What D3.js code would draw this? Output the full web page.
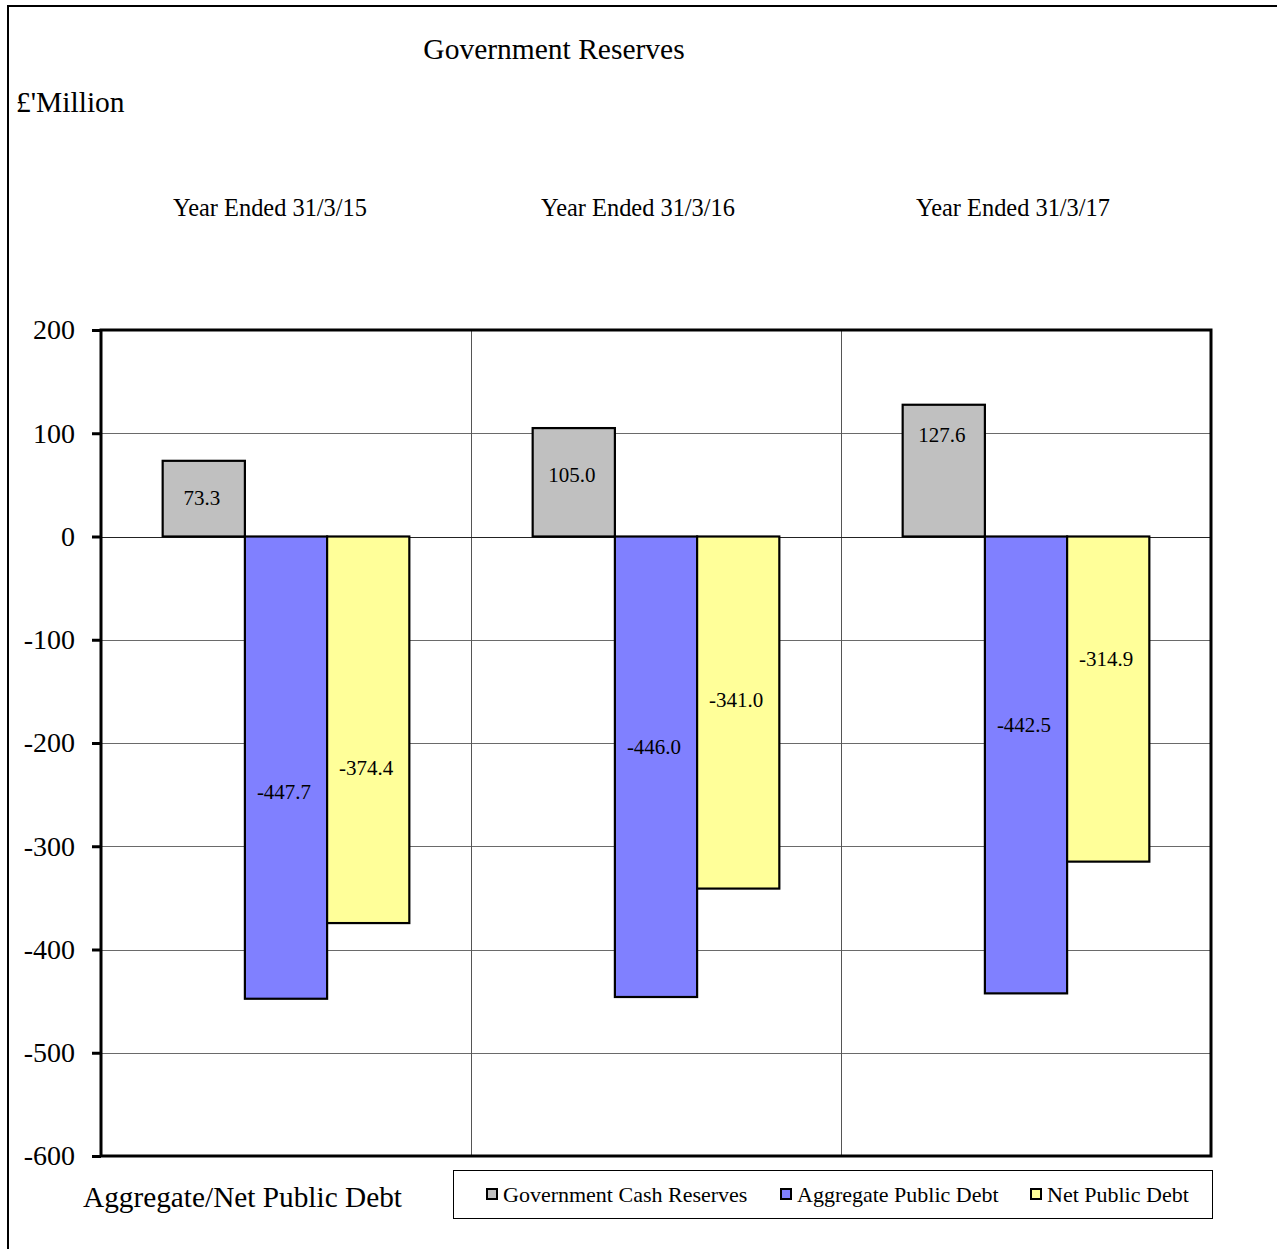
<!DOCTYPE html>
<html>
<head>
<meta charset="utf-8">
<script src="https://cdn.jsdelivr.net/npm/d3@7"></script>
<style>
  html, body { margin: 0; padding: 0; background: #fff; }
  svg { display: block; }
  text { font-family: "Liberation Serif", "Times New Roman", serif; fill: #000; }
</style>
</head>
<body>
<svg id="chart" width="1277" height="1249"></svg>
<script>
// Data
const categories = ["Year Ended 31/3/15", "Year Ended 31/3/16", "Year Ended 31/3/17"];
const seriesNames = ["Government Cash Reserves", "Aggregate Public Debt", "Net Public Debt"];
const cashReserves = [73.3, 105.0, 127.6];
const aggregateDebt = [-447.7, -446.0, -442.5];
const netDebt = [-374.4, -341.0, -314.9];
const yTicks = [200, 100, 0, -100, -200, -300, -400, -500, -600];

const seriesValues = [cashReserves, aggregateDebt, netDebt];
const seriesColors = ["#C0C0C0", "#8080FF", "#FFFF99"];

// Number formats with a plain hyphen for negatives
const locale = d3.formatLocale({ decimal: ".", thousands: ",", grouping: [3], currency: ["£", ""], minus: "-" });
const fmtValue = locale.format(".1f");
const fmtTick = locale.format("d");

// Layout
const svg = d3.select("#chart");
const plot = { left: 101, right: 1211, top: 330, bottom: 1156 };

const x = d3.scaleBand().domain(categories).range([plot.left, plot.right]).paddingInner(0).paddingOuter(0);
const y = d3.scaleLinear().domain([-600, 200]).range([plot.bottom, plot.top]);

// Bars take 3/(3+1.5) of each category band (gap width 150%)
const groupW = x.bandwidth() * 3 / 4.5;
const xs = d3.scaleBand().domain(d3.range(3)).range([0, groupW]);

// Outer frame (extends beyond the page on the right and bottom)
svg.append("rect")
  .attr("x", 8).attr("y", 6).attr("width", 1400).attr("height", 1400)
  .attr("fill", "none").attr("stroke", "#000").attr("stroke-width", 2);

// Horizontal gridlines
svg.append("g").selectAll("line").data(yTicks.filter(d => d !== 200 && d !== -600 && d !== 0)).join("line")
  .attr("x1", plot.left).attr("x2", plot.right)
  .attr("y1", d => Math.round(y(d)) + 0.5).attr("y2", d => Math.round(y(d)) + 0.5)
  .attr("stroke", "#6a6a6a").attr("stroke-width", 1);

// Category separators
svg.append("g").selectAll("line").data(categories.slice(1)).join("line")
  .attr("x1", d => Math.round(x(d)) + 0.5).attr("x2", d => Math.round(x(d)) + 0.5)
  .attr("y1", plot.top).attr("y2", plot.bottom)
  .attr("stroke", "#555").attr("stroke-width", 1);

// Zero line
svg.append("line")
  .attr("x1", plot.left).attr("x2", plot.right)
  .attr("y1", Math.round(y(0)) + 0.5).attr("y2", Math.round(y(0)) + 0.5)
  .attr("stroke", "#222").attr("stroke-width", 1);

// Bars
const bars = [];
categories.forEach((c, ci) => {
  seriesValues.forEach((vals, si) => {
    bars.push({ cat: c, ci, si, value: vals[ci] });
  });
});

const barX = d => x(d.cat) + (x.bandwidth() - groupW) / 2 + xs(d.si);

svg.append("g").selectAll("rect").data(bars).join("rect")
  .attr("x", barX)
  .attr("y", d => y(Math.max(0, d.value)))
  .attr("width", xs.bandwidth())
  .attr("height", d => Math.abs(y(d.value) - y(0)))
  .attr("fill", d => seriesColors[d.si])
  .attr("stroke", "#000").attr("stroke-width", 2.2);

// Data labels, nudged vertically from each bar's midpoint
const labelNudge = [
  [-1, 24, 38],
  [-8, -20, -13],
  [-36, -40, -40]
];
svg.append("g").selectAll("text").data(bars).join("text")
  .attr("x", d => barX(d) + xs.bandwidth() / 2 - 2)
  .attr("y", d => (y(d.value) + y(0)) / 2 + labelNudge[d.ci][d.si])
  .attr("dy", "0.35em")
  .attr("text-anchor", "middle")
  .attr("font-size", 21)
  .text(d => fmtValue(d.value));

// Plot border
svg.append("rect")
  .attr("x", plot.left).attr("y", plot.top)
  .attr("width", plot.right - plot.left).attr("height", plot.bottom - plot.top)
  .attr("fill", "none").attr("stroke", "#000").attr("stroke-width", 3);

// Y axis
const yAxis = svg.append("g")
  .attr("transform", `translate(${plot.left},0)`)
  .call(d3.axisLeft(y).tickValues(yTicks).tickSize(9).tickPadding(17).tickFormat(fmtTick));
yAxis.select(".domain").remove();
yAxis.selectAll(".tick line").attr("stroke", "#000").attr("stroke-width", 3);
yAxis.selectAll(".tick text")
  .style("font-family", '"Liberation Serif", "Times New Roman", serif')
  .attr("font-size", 28).attr("fill", "#000");

// Category labels above the plot
svg.append("g").selectAll("text").data(categories).join("text")
  .attr("x", (d, i) => x(d) + x.bandwidth() / 2 + [-16, -18, -13][i])
  .attr("y", 216)
  .attr("text-anchor", "middle")
  .attr("font-size", 24.4)
  .text(d => d);

// Titles
svg.append("text").attr("x", 554).attr("y", 59).attr("text-anchor", "middle")
  .attr("font-size", 29.5).text("Government Reserves");
svg.append("text").attr("x", 16).attr("y", 112)
  .attr("font-size", 29.5).text("£'Million");
svg.append("text").attr("x", 83).attr("y", 1207)
  .attr("font-size", 29.3).text("Aggregate/Net Public Debt");

// Legend
const legend = svg.append("g");
legend.append("rect")
  .attr("x", 453.5).attr("y", 1170.5).attr("width", 759).attr("height", 48)
  .attr("fill", "#fff").attr("stroke", "#000").attr("stroke-width", 1);
const legendX = [487, 781, 1031];
const items = legend.selectAll("g.item").data(seriesNames).join("g")
  .attr("class", "item")
  .attr("transform", (d, i) => `translate(${legendX[i]},1194)`);
items.append("rect")
  .attr("x", 0).attr("y", -5).attr("width", 10).attr("height", 10)
  .attr("fill", (d, i) => seriesColors[i]).attr("stroke", "#000").attr("stroke-width", 2);
items.append("text")
  .attr("x", 16).attr("y", 0).attr("dy", "0.35em")
  .attr("font-size", 22)
  .text(d => d);
</script>
</body>
</html>
